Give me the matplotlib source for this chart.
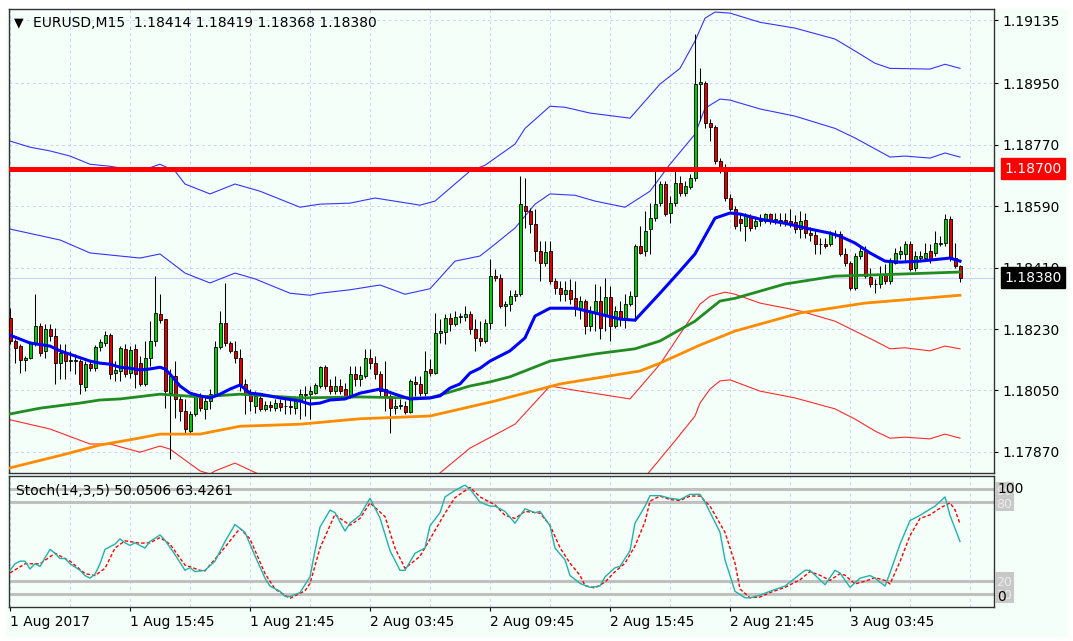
import numpy as np
import matplotlib
matplotlib.use("Agg")
import matplotlib.pyplot as plt
from matplotlib.patches import Rectangle

plt.rcParams["font.family"] = ["DejaVu Sans"]

symbol = "EURUSD,M15"
level_price = 1.18700
price_ticks = [1.19135, 1.18950, 1.18770, 1.18590, 1.18410, 1.18230, 1.18050, 1.17870]
time_tick_bars = [0, 24, 48, 72, 96, 120, 144, 168]
time_tick_labels = ["1 Aug 2017", "1 Aug 15:45", "1 Aug 21:45", "2 Aug 03:45",
                    "2 Aug 09:45", "2 Aug 15:45", "2 Aug 21:45", "3 Aug 03:45"]

# M15 candles, one per bar
opens = [
    1.18262, 1.18195, 1.18180, 1.18140, 1.18145, 1.18189, 1.18238, 1.18166, 1.18230, 1.18209,
    1.18130, 1.18160, 1.18136, 1.18140, 1.18136, 1.18060, 1.18127, 1.18115, 1.18177, 1.18189,
    1.18212, 1.18101, 1.18107, 1.18172, 1.18101, 1.18172, 1.18130, 1.18069, 1.18145, 1.18195,
    1.18274, 1.18259, 1.18042, 1.18092, 1.18025, 1.17990, 1.17931, 1.17981, 1.18034, 1.17996,
    1.18019, 1.18039, 1.18177, 1.18247, 1.18189, 1.18166, 1.18145, 1.18069, 1.18039, 1.18004,
    1.18028, 1.17996, 1.18007, 1.17998, 1.18013, 1.18004, 1.18004, 1.17998, 1.18019, 1.18036,
    1.18039, 1.18042, 1.18063, 1.18118, 1.18063, 1.18048, 1.18063, 1.18054, 1.18034, 1.18098,
    1.18084, 1.18092, 1.18145, 1.18130, 1.18098, 1.18054, 1.18034, 1.17998, 1.18004, 1.18004,
    1.17987, 1.18075, 1.18069, 1.18042, 1.18113, 1.18101, 1.18218, 1.18221, 1.18262, 1.18244,
    1.18265, 1.18265, 1.18274, 1.18230, 1.18204, 1.18195, 1.18247, 1.18385, 1.18379, 1.18297,
    1.18303, 1.18326, 1.18332, 1.18590, 1.18576, 1.18537, 1.18459, 1.18423, 1.18459, 1.18371,
    1.18350, 1.18332, 1.18344, 1.18321, 1.18289, 1.18312, 1.18238, 1.18277, 1.18312, 1.18274,
    1.18324, 1.18238, 1.18283, 1.18262, 1.18303, 1.18326, 1.18473, 1.18459, 1.18523, 1.18555,
    1.18599, 1.18655, 1.18570, 1.18599, 1.18658, 1.18628, 1.18646, 1.18672, 1.18948, 1.18951,
    1.18833, 1.18822, 1.18722, 1.18702, 1.18614, 1.18582, 1.18552, 1.18532, 1.18561, 1.18532,
    1.18546, 1.18546, 1.18567, 1.18543, 1.18549, 1.18549, 1.18546, 1.18543, 1.18523, 1.18549,
    1.18511, 1.18505, 1.18479, 1.18479, 1.18479, 1.18505, 1.18508, 1.18450, 1.18423, 1.18350,
    1.18444, 1.18459, 1.18382, 1.18362, 1.18362, 1.18391, 1.18371, 1.18423, 1.18450, 1.18450,
    1.18479, 1.18409, 1.18438, 1.18438, 1.18459, 1.18453, 1.18479, 1.18482, 1.18552, 1.18438,
    1.18414,
]
highs = [
    1.18291, 1.18201, 1.18186, 1.18151, 1.18195, 1.18332, 1.18247, 1.18244, 1.18244, 1.18233,
    1.18186, 1.18186, 1.18166, 1.18157, 1.18143, 1.18136, 1.18136, 1.18183, 1.18201, 1.18224,
    1.18218, 1.18136, 1.18180, 1.18186, 1.18180, 1.18186, 1.18151, 1.18195, 1.18253, 1.18385,
    1.18332, 1.18259, 1.18113, 1.18136, 1.18034, 1.18025, 1.17990, 1.18042, 1.18042, 1.18031,
    1.18054, 1.18195, 1.18283, 1.18365, 1.18195, 1.18195, 1.18172, 1.18084, 1.18054, 1.18048,
    1.18034, 1.18019, 1.18019, 1.18025, 1.18025, 1.18025, 1.18025, 1.18034, 1.18054, 1.18063,
    1.18063, 1.18072, 1.18122, 1.18124, 1.18084, 1.18092, 1.18084, 1.18072, 1.18122, 1.18122,
    1.18122, 1.18172, 1.18172, 1.18151, 1.18107, 1.18136, 1.18039, 1.18025, 1.18025, 1.18019,
    1.18084, 1.18092, 1.18092, 1.18166, 1.18143, 1.18277, 1.18259, 1.18274, 1.18277, 1.18283,
    1.18277, 1.18297, 1.18283, 1.18259, 1.18253, 1.18259, 1.18435, 1.18406, 1.18391, 1.18312,
    1.18344, 1.18344, 1.18678, 1.18672, 1.18585, 1.18582, 1.18488, 1.18488, 1.18488, 1.18379,
    1.18371, 1.18371, 1.18376, 1.18371, 1.18326, 1.18318, 1.18297, 1.18362, 1.18356, 1.18379,
    1.18356, 1.18297, 1.18312, 1.18332, 1.18341, 1.18479, 1.18532, 1.18576, 1.18599, 1.18702,
    1.18664, 1.18664, 1.18620, 1.18699, 1.18678, 1.18664, 1.18684, 1.19094, 1.18995, 1.18957,
    1.18845, 1.18828, 1.18731, 1.18713, 1.18626, 1.18590, 1.18570, 1.18570, 1.18567, 1.18561,
    1.18567, 1.18570, 1.18570, 1.18570, 1.18570, 1.18570, 1.18582, 1.18564, 1.18576, 1.18570,
    1.18529, 1.18523, 1.18497, 1.18497, 1.18517, 1.18520, 1.18517, 1.18467, 1.18429, 1.18453,
    1.18473, 1.18473, 1.18409, 1.18376, 1.18414, 1.18420, 1.18438, 1.18467, 1.18473, 1.18488,
    1.18488, 1.18459, 1.18459, 1.18482, 1.18479, 1.18517, 1.18502, 1.18567, 1.18561, 1.18482,
    1.18419,
]
lows = [
    1.18186, 1.18130, 1.18101, 1.18107, 1.18143, 1.18180, 1.18151, 1.18145, 1.18195, 1.18069,
    1.18084, 1.18084, 1.18107, 1.18098, 1.18039, 1.18048, 1.18107, 1.18107, 1.18166, 1.18180,
    1.18084, 1.18078, 1.18078, 1.18090, 1.18087, 1.18057, 1.18063, 1.18063, 1.18122, 1.18180,
    1.18247, 1.17998, 1.17849, 1.17969, 1.17960, 1.17925, 1.17922, 1.17975, 1.17990, 1.17966,
    1.17996, 1.18034, 1.18172, 1.18180, 1.18160, 1.18130, 1.18048, 1.17981, 1.17990, 1.17984,
    1.17990, 1.17990, 1.17990, 1.17990, 1.17990, 1.17981, 1.17981, 1.17981, 1.17966, 1.17975,
    1.17966, 1.18039, 1.18057, 1.18054, 1.18039, 1.18039, 1.18039, 1.18025, 1.18028, 1.18063,
    1.18063, 1.18087, 1.18113, 1.18084, 1.18034, 1.17990, 1.17925, 1.17981, 1.17996, 1.17981,
    1.17984, 1.18034, 1.18034, 1.18034, 1.18092, 1.18098, 1.18189, 1.18186, 1.18224, 1.18238,
    1.18247, 1.18253, 1.18215, 1.18166, 1.18180, 1.18189, 1.18230, 1.18371, 1.18291, 1.18238,
    1.18283, 1.18312, 1.18326, 1.18526, 1.18511, 1.18429, 1.18371, 1.18414, 1.18362, 1.18332,
    1.18312, 1.18312, 1.18303, 1.18268, 1.18259, 1.18215, 1.18224, 1.18224, 1.18201, 1.18224,
    1.18195, 1.18233, 1.18238, 1.18233, 1.18297, 1.18253, 1.18450, 1.18444, 1.18450, 1.18546,
    1.18590, 1.18561, 1.18540, 1.18590, 1.18620, 1.18620, 1.18640, 1.18664, 1.18839, 1.18819,
    1.18781, 1.18713, 1.18687, 1.18605, 1.18576, 1.18523, 1.18517, 1.18488, 1.18517, 1.18523,
    1.18532, 1.18540, 1.18537, 1.18537, 1.18532, 1.18532, 1.18529, 1.18511, 1.18497, 1.18497,
    1.18488, 1.18450, 1.18450, 1.18467, 1.18473, 1.18497, 1.18444, 1.18414, 1.18344, 1.18344,
    1.18435, 1.18379, 1.18353, 1.18335, 1.18350, 1.18362, 1.18362, 1.18420, 1.18435, 1.18429,
    1.18400, 1.18400, 1.18429, 1.18435, 1.18423, 1.18444, 1.18473, 1.18473, 1.18429, 1.18409,
    1.18368,
]
closes = [
    1.18195, 1.18174, 1.18140, 1.18145, 1.18189, 1.18238, 1.18160, 1.18230, 1.18209, 1.18130,
    1.18160, 1.18136, 1.18140, 1.18136, 1.18069, 1.18127, 1.18115, 1.18177, 1.18192, 1.18212,
    1.18098, 1.18110, 1.18174, 1.18098, 1.18169, 1.18098, 1.18069, 1.18145, 1.18195, 1.18277,
    1.18256, 1.18048, 1.18092, 1.18025, 1.17990, 1.17937, 1.17981, 1.18039, 1.17998, 1.18019,
    1.18039, 1.18177, 1.18247, 1.18189, 1.18166, 1.18145, 1.18069, 1.18039, 1.18019, 1.18034,
    1.17996, 1.18007, 1.18001, 1.18013, 1.18001, 1.18003, 1.18001, 1.18022, 1.18039, 1.18039,
    1.18048, 1.18066, 1.18118, 1.18063, 1.18048, 1.18063, 1.18048, 1.18034, 1.18098, 1.18084,
    1.18095, 1.18145, 1.18130, 1.18098, 1.18048, 1.18034, 1.17998, 1.18004, 1.18007, 1.17987,
    1.18078, 1.18069, 1.18042, 1.18107, 1.18101, 1.18218, 1.18224, 1.18262, 1.18244, 1.18265,
    1.18268, 1.18274, 1.18230, 1.18204, 1.18195, 1.18247, 1.18385, 1.18379, 1.18297, 1.18303,
    1.18326, 1.18332, 1.18596, 1.18576, 1.18537, 1.18459, 1.18423, 1.18456, 1.18371, 1.18350,
    1.18332, 1.18344, 1.18318, 1.18289, 1.18312, 1.18238, 1.18283, 1.18312, 1.18233, 1.18324,
    1.18238, 1.18283, 1.18262, 1.18303, 1.18326, 1.18473, 1.18453, 1.18517, 1.18555, 1.18596,
    1.18655, 1.18567, 1.18599, 1.18658, 1.18628, 1.18649, 1.18672, 1.18948, 1.18954, 1.18833,
    1.18822, 1.18722, 1.18702, 1.18614, 1.18582, 1.18532, 1.18540, 1.18561, 1.18526, 1.18546,
    1.18549, 1.18567, 1.18546, 1.18552, 1.18546, 1.18540, 1.18537, 1.18523, 1.18546, 1.18511,
    1.18505, 1.18479, 1.18478, 1.18473, 1.18508, 1.18508, 1.18450, 1.18423, 1.18350, 1.18444,
    1.18459, 1.18385, 1.18362, 1.18361, 1.18391, 1.18371, 1.18429, 1.18453, 1.18459, 1.18479,
    1.18406, 1.18444, 1.18444, 1.18453, 1.18432, 1.18482, 1.18482, 1.18552, 1.18438, 1.18414,
    1.18380,
]

# indicator lines, read at sample bars
ma_fast_bars = [0, 4, 8, 10, 13, 16, 18, 20, 22, 24, 26, 28, 30, 31, 32, 34, 36, 38, 40, 42,
                44, 46, 48, 50, 54, 58, 60, 62, 64, 67, 70, 74, 77, 80, 84, 86, 88, 90, 92, 94,
                96, 100, 103, 105, 108, 113, 117, 122, 125, 130, 134, 137, 141, 144, 146, 150,
                155, 160, 164, 166, 169, 172, 175, 178, 182, 186, 188, 190]
ma_fast = [1.18212, 1.18189, 1.18180, 1.18166, 1.18151, 1.18136, 1.18130, 1.18127, 1.18118, 1.18115,
           1.18110, 1.18113, 1.18118, 1.18113, 1.18098, 1.18063, 1.18042, 1.18034, 1.18028, 1.18039,
           1.18054, 1.18066, 1.18042, 1.18039, 1.18028, 1.18019, 1.18010, 1.18013, 1.18022, 1.18025,
           1.18042, 1.18054, 1.18039, 1.18025, 1.18028, 1.18034, 1.18057, 1.18069, 1.18101, 1.18115,
           1.18136, 1.18166, 1.18204, 1.18268, 1.18291, 1.18291, 1.18277, 1.18259, 1.18256, 1.18335,
           1.18400, 1.18450, 1.18555, 1.18570, 1.18567, 1.18552, 1.18540, 1.18523, 1.18511, 1.18502,
           1.18482, 1.18453, 1.18429, 1.18426, 1.18429, 1.18435, 1.18438, 1.18429]

ma_mid_bars = [0, 6, 14, 18, 22, 30, 38, 46, 58, 70, 80, 84, 92, 96, 100, 108, 117, 125, 130, 137,
               138, 142, 145, 155, 165, 178, 190]
ma_mid = [1.17981, 1.17998, 1.18013, 1.18022, 1.18025, 1.18039, 1.18031, 1.18039, 1.18028, 1.18031,
          1.18028, 1.18028, 1.18063, 1.18075, 1.18090, 1.18136, 1.18157, 1.18172, 1.18195, 1.18253,
          1.18265, 1.18312, 1.18320, 1.18362, 1.18385, 1.18391, 1.18397]

ma_slow_bars = [0, 11, 18, 25, 30, 38, 46, 58, 70, 84, 97, 110, 126, 130, 138, 145, 158, 171, 190]
ma_slow = [1.17823, 1.17863, 1.17890, 1.17908, 1.17922, 1.17922, 1.17945, 1.17951, 1.17967, 1.17975,
           1.18019, 1.18069, 1.18107, 1.18130, 1.18183, 1.18224, 1.18277, 1.18306, 1.18329]

band_up2_bars = [0, 4, 8, 12, 16, 20, 26, 30, 33, 35, 40, 45, 50, 58, 62, 68, 73, 82, 85, 92,
                 95, 101, 103, 108, 111, 116, 124, 130, 134, 137, 139, 141, 144, 150, 157, 165,
                 169, 173, 176, 184, 187, 190]
band_up2 = [1.18781, 1.18763, 1.18752, 1.18737, 1.18713, 1.18707, 1.18693, 1.18713, 1.18693, 1.18655,
            1.18626, 1.18655, 1.18634, 1.18587, 1.18596, 1.18599, 1.18614, 1.18593, 1.18605, 1.18693,
            1.18710, 1.18772, 1.18818, 1.18883, 1.18880, 1.18863, 1.18848, 1.18948, 1.18994, 1.19074,
            1.19141, 1.19159, 1.19156, 1.19129, 1.19112, 1.19080, 1.19045, 1.19009, 1.18994, 1.18992,
            1.19006, 1.18994]

band_up1_bars = [0, 10, 16, 26, 30, 35, 40, 45, 49, 56, 60, 62, 68, 74, 79, 84, 89, 94, 96, 101,
                 105, 108, 113, 117, 123, 128, 132, 137, 139, 142, 144, 150, 157, 165, 169, 173,
                 176, 179, 184, 187, 190]
band_up1 = [1.18523, 1.18491, 1.18453, 1.18438, 1.18450, 1.18394, 1.18365, 1.18394, 1.18377, 1.18335,
            1.18329, 1.18335, 1.18345, 1.18359, 1.18332, 1.18348, 1.18429, 1.18444, 1.18467, 1.18526,
            1.18596, 1.18626, 1.18622, 1.18605, 1.18587, 1.18634, 1.18713, 1.18801, 1.18877, 1.18904,
            1.18901, 1.18875, 1.18854, 1.18818, 1.18790, 1.18758, 1.18734, 1.18737, 1.18731, 1.18746,
            1.18734]

band_dn1_bars = [0, 8, 16, 20, 26, 30, 32, 38, 40, 41, 45, 51, 60, 85, 92, 101, 108, 114, 118, 124,
                 130, 134, 138, 140, 143, 145, 150, 158, 165, 169, 173, 176, 179, 184, 187, 190]
band_dn1 = [1.17964, 1.17937, 1.17893, 1.17893, 1.17869, 1.17887, 1.17878, 1.17814, 1.17805, 1.17814,
            1.17837, 1.17796, np.nan, 1.17796, 1.17881, 1.17951, 1.18063, 1.18048, 1.18039, 1.18025,
            1.18127, 1.18215, 1.18303, 1.18326, 1.18338, 1.18332, 1.18306, 1.18283, 1.18253, 1.18224,
            1.18195, 1.18172, 1.18175, 1.18166, 1.18180, 1.18172]

band_dn2_bars = [127, 133, 137, 138, 140, 142, 144, 150, 157, 165, 169, 173, 176, 179, 184, 187, 190]
band_dn2 = [1.17796, 1.17902, 1.17975, 1.18013, 1.18054, 1.18078, 1.18081, 1.18048, 1.18028, 1.17996,
            1.17966, 1.17931, 1.17910, 1.17913, 1.17908, 1.17922, 1.17910]

# stochastic (14,3,5)
stoch_main_bars = [0, 1, 2, 3, 4, 5, 6, 8, 9, 10, 11, 12, 14, 15, 16, 17, 18, 19, 21, 22,
                   23, 24, 25, 27, 28, 30, 31, 33, 35, 36, 37, 39, 41, 43, 45, 47, 49, 51, 52, 54,
                   55, 56, 58, 60, 61, 62, 64, 65, 67, 68, 70, 72, 74, 76, 78, 79, 81, 83, 84, 86,
                   87, 89, 91, 92, 94, 96, 97, 99, 101, 103, 105, 106, 108, 109, 111, 112, 114, 116,
                   118, 119, 121, 122, 124, 125, 127, 128, 130, 132, 134, 136, 138, 139, 142, 143,
                   145, 147, 148, 150, 152, 155, 157, 159, 160, 163, 165, 166, 168, 170, 172, 173,
                   175, 176, 178, 180, 182, 185, 187, 188, 190]
stoch_main = [28, 33, 35, 35, 29, 33, 31, 44, 41, 37, 37, 33, 28, 24, 22, 25, 33, 44, 48, 52,
              49, 47, 49, 45, 50, 55, 51, 40, 28, 30, 27, 28, 35, 50, 63, 57, 39, 22, 16, 12,
              8, 8, 11, 23, 43, 61, 74, 72, 58, 64, 70, 83, 68, 43, 28, 28, 41, 45, 62, 72,
              84, 89, 93, 90, 80, 77, 77, 73, 64, 75, 72, 73, 62, 45, 36, 24, 18, 15,
              16, 23, 30, 31, 43, 64, 77, 85, 85, 83, 82, 86, 86, 80, 57, 36,
              12, 7, 7, 9, 12, 16, 22, 28, 28, 17, 28, 26, 15, 22, 24, 22,
              16, 26, 48, 66, 70, 77, 84, 70, 50.0506]
stoch_sig_bars = [0, 3, 6, 9, 12, 15, 17, 19, 21, 23, 26, 28, 30, 32, 35, 38, 39, 42, 46, 48,
                  51, 53, 56, 59, 60, 62, 65, 66, 68, 70, 72, 75, 77, 79, 82, 84, 87, 89, 92, 94,
                  97, 99, 101, 103, 106, 108, 110, 112, 114, 115, 117, 119, 121, 123, 125, 127,
                  128, 130, 132, 134, 136, 138, 140, 143, 145, 146, 148, 150, 152, 155, 158, 160,
                  162, 164, 166, 167, 169, 171, 173, 175, 176, 178, 180, 182, 184, 186, 188, 189,
                  190]
stoch_sig = [26, 33, 33, 41, 35, 25.5, 24, 29.5, 45, 50.5, 48.7, 49, 53, 48, 32, 28, 27.6, 41, 60, 52,
             25.5, 13.7, 6.6, 12.4, 18, 45, 70.8, 67.6, 62.4, 67.6, 79.5, 69, 45, 29.5, 38.7, 51.8,
             71.6, 83.5, 91.4, 84, 78, 70, 67.6, 73, 71.6, 62.4, 45.3, 33.4, 24.2, 16.3, 14.5, 19,
             27, 33.4, 46.6, 65, 80.8, 84.7, 82, 81.3, 84.7, 84.7, 77, 57, 33.4, 13.7, 7.1, 7.6,
             11, 15, 20.8, 27, 24.2, 20.3, 25.5, 24.2, 17.6, 19.7, 22.4, 20.3, 17.6, 34.7, 54.5,
             67.6, 70.3, 75.5, 79.5, 74.2, 63.4261]
stoch_levels = [90, 80, 20, 10]

W, H = 1073, 641
BG = "#f5fffa"
GRID = "#d2d2f4"
FRAME = "#333333"

fig = plt.figure(figsize=(W / 100, H / 100), dpi=100, facecolor="white")
fig.add_artist(Rectangle((6 / W, 4 / H), 1062 / W, 628 / H, transform=fig.transFigure,
                         facecolor=BG, edgecolor="none", zorder=-10))

ax = fig.add_axes([9 / W, 1 - 473 / H, 985 / W, 464 / H], facecolor=BG)
ax2 = fig.add_axes([9 / W, 1 - 607 / H, 985 / W, 131 / H], facecolor=BG)

xlim = (-0.2, 196.8)
grid_bars = np.arange(0, 197, 12)

# ---- price panel ----
for b in grid_bars:
    ax.axvline(b, color=GRID, lw=0.7, ls=(0, (3, 3)), zorder=0.5)
for p in price_ticks:
    ax.axhline(p, color=GRID, lw=0.7, ls=(0, (3, 3)), zorder=0.5)
ax.axhline(closes[-1], color="#d0d0ff", lw=0.8, zorder=0.6)

ax.plot(band_up2_bars, band_up2, color="#3434ff", lw=0.8, zorder=2)
ax.plot(band_up1_bars, band_up1, color="#3434ff", lw=0.8, zorder=2)
ax.plot(band_dn1_bars, band_dn1, color="#ff2a2a", lw=0.8, zorder=2)
ax.plot(band_dn2_bars, band_dn2, color="#ff2a2a", lw=0.8, zorder=2)

x = np.arange(len(closes))
o = np.array(opens)
c = np.array(closes)
ax.vlines(x, lows, highs, color="black", lw=0.75, zorder=3)
body_colors = np.where(c >= o, "#00cc00", "#e00000")
ax.bar(x, np.abs(c - o), bottom=np.minimum(o, c), width=0.6, color=body_colors,
       edgecolor="black", linewidth=0.6, zorder=4)

ax.plot(ma_slow_bars, ma_slow, color="#ff8c00", lw=2.0, zorder=5)
ax.plot(ma_mid_bars, ma_mid, color="#228b22", lw=2.0, zorder=5)
ax.plot(ma_fast_bars, ma_fast, color="#0000ff", lw=2.2, zorder=5)
ax.axhline(level_price, color="#ff0000", lw=3.6, zorder=6)

ax.set_xlim(*xlim)
ax.set_ylim(1.17808, 1.19168)
ax.yaxis.tick_right()
ax.set_yticks(price_ticks)
ax.set_yticklabels([f"{p:.5f}" for p in price_ticks])
ax.tick_params(axis="y", length=3, width=0.8, pad=3, labelsize=10, colors="black")
ax.tick_params(axis="x", length=0, labelbottom=False)

yx = ax.get_yaxis_transform()
for price, bg in ((level_price, "#ff0000"), (closes[-1], "black")):
    ax.text(1.0105, price, f"{price:.5f}", transform=yx, ha="left", va="center",
            color="white", fontsize=10, clip_on=False, zorder=10,
            bbox=dict(boxstyle="square,pad=0.25", fc=bg, ec=bg))

ax.text(0.005, 0.9698, "\u25bc", transform=ax.transAxes, fontsize=9, ha="left", va="center")
ax.text(0.0244, 0.9698,
        f"{symbol}  {opens[-1]:.5f} {highs[-1]:.5f} {lows[-1]:.5f} {closes[-1]:.5f}",
        transform=ax.transAxes, fontsize=10, ha="left", va="center")

# ---- stochastic panel ----
for b in grid_bars:
    ax2.axvline(b, color=GRID, lw=0.7, ls=(0, (3, 3)), zorder=0.5)
for lv in stoch_levels:
    ax2.axhline(lv, color="#c0c0c0", lw=2.2, zorder=1)
ax2.plot(stoch_sig_bars, stoch_sig, color="#ff0000", lw=1.0, ls=(0, (2.5, 1.5)), zorder=3)
ax2.plot(stoch_main_bars, stoch_main, color="#20b2aa", lw=1.0, zorder=4)
ax2.set_xlim(*xlim)
ax2.set_ylim(0, 100)
ax2.set_yticks([])
ax2.set_xticks(time_tick_bars)
ax2.set_xticklabels(time_tick_labels, ha="left")
ax2.tick_params(axis="x", length=3, width=0.8, pad=3, labelsize=10, colors="black")

ax2.text(0.0066, 0.8855, f"Stoch(14,3,5) {stoch_main[-1]:.4f} {stoch_sig[-1]:.4f}",
         transform=ax2.transAxes, fontsize=10, ha="left", va="center")

y2 = ax2.get_yaxis_transform()
for lo, hi in ((73.3, 95.4), (3.1, 26.7)):
    ax2.add_patch(Rectangle((1.0015, lo), 0.0193, hi - lo, transform=y2, facecolor="#c8c8c8",
                            edgecolor="none", clip_on=False, zorder=5))
for lv in stoch_levels:
    ax2.text(1.0025, lv - 1.5, f"{lv}", transform=y2, fontsize=9, color="#ececec",
             ha="left", va="center", clip_on=False, zorder=6)
ax2.text(1.003, 90, "100", transform=y2, fontsize=10, ha="left", va="center", clip_on=False, zorder=7)
ax2.text(1.003, 7.6, "0", transform=y2, fontsize=10, ha="left", va="center", clip_on=False, zorder=7)

for a in (ax, ax2):
    for s in a.spines.values():
        s.set_color(FRAME)
        s.set_linewidth(1.0)

fig.savefig("out.png", dpi=100, facecolor=fig.get_facecolor())
